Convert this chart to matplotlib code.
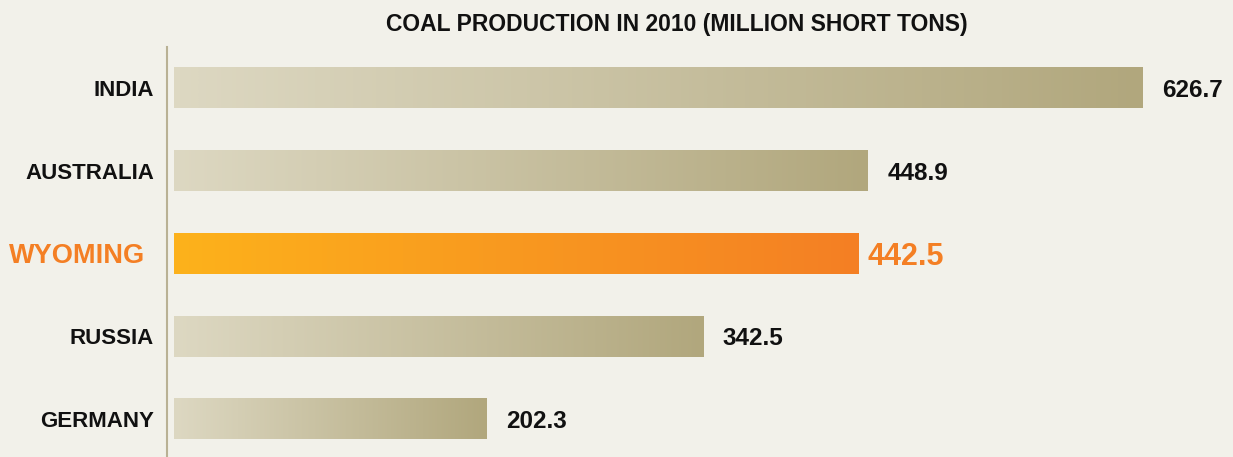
import numpy as np
import matplotlib
matplotlib.use("Agg")
import matplotlib.pyplot as plt
import matplotlib.transforms as mtransforms
from matplotlib.colors import LinearSegmentedColormap

categories = ["INDIA", "AUSTRALIA", "WYOMING", "RUSSIA", "GERMANY"]
values = [626.7, 448.9, 442.5, 342.5, 202.3]
value_labels = ["626.7", "448.9", "442.5", "342.5", "202.3"]
highlight = "WYOMING"
title = "COAL PRODUCTION IN 2010 (MILLION SHORT TONS)"

BG = "#F2F1EA"
FONT = ["Liberation Sans", "DejaVu Sans"]
ORANGE = "#F47F24"
DARK = "#111111"

W, H = 1233, 457
fig = plt.figure(figsize=(W / 100, H / 100), dpi=100, facecolor=BG)
ax = fig.add_axes([174 / W, 0, (W - 174) / W, (457 - 47) / H])
ax.set_facecolor(BG)

grey_cmap = LinearSegmentedColormap.from_list("g", ["#DDD8C2", "#B1A77D"])
orange_cmap = LinearSegmentedColormap.from_list("o", ["#FDB21B", "#F47F24"])
grad = np.linspace(0, 1, 256).reshape(1, -1)

label_tr = mtransforms.blended_transform_factory(fig.transFigure, ax.transData)

h = 0.49
for i, (cat, v, lab) in enumerate(zip(categories, values, value_labels)):
    hl = cat == highlight
    cmap = orange_cmap if hl else grey_cmap
    ax.imshow(grad, cmap=cmap, aspect="auto",
              extent=(0, v, i + h / 2, i - h / 2), interpolation="bicubic", zorder=2)
    if hl:
        ax.annotate(lab, (v, i), xytext=(7, 0), textcoords="offset points",
                    va="center_baseline", ha="left", fontsize=22, fontweight="bold",
                    color=ORANGE, family=FONT)
        ax.text(145 / W, i, cat, transform=label_tr, ha="right", va="center_baseline",
                fontsize=19.5, fontweight="bold", color=ORANGE, family=FONT)
    else:
        ax.annotate(lab, (v, i), xytext=(14, 0), textcoords="offset points",
                    va="center_baseline", ha="left", fontsize=17.5, fontweight="bold",
                    color=DARK, family=FONT)
        ax.text(154 / W, i, cat, transform=label_tr, ha="right", va="center_baseline",
                fontsize=16, fontweight="bold", color=DARK, family=FONT)

ax.set_xlim(0, (W - 174) / 1.546)
ax.set_ylim(4.458, -0.494)
ax.set_xticks([])
ax.set_yticks([])

for s in ["top", "right", "bottom"]:
    ax.spines[s].set_visible(False)
ax.spines["left"].set_position(("outward", 5))
ax.spines["left"].set_color("#B9B194")
ax.spines["left"].set_linewidth(1.5)

fig.text(677 / W, 1 - 22 / H, title, ha="center", va="center_baseline",
         fontsize=16.5, fontweight="bold", color=DARK, family=FONT)

fig.savefig("out.png", dpi=100, facecolor=BG)
